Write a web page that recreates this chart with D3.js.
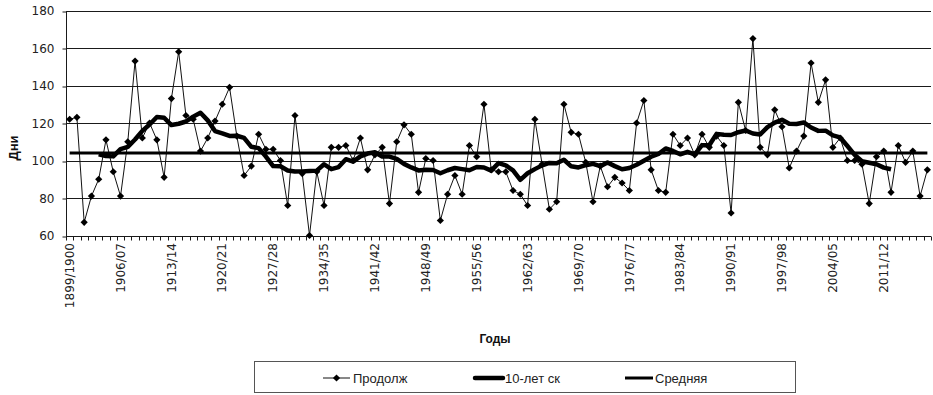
<!DOCTYPE html>
<html>
<head>
<meta charset="utf-8">
<script src="https://cdn.jsdelivr.net/npm/d3@7"></script>
<style>
  html, body { margin: 0; padding: 0; background: #fff; }
  svg { display: block; }
</style>
</head>
<body>
<svg id="chart" width="933" height="395"></svg>
<script>
// Seasons 1899/1900 … 2017/18
const startYear = 1899;
const endYear = 2017;

// Duration (days) per season
const durationDays = [
  122, 123, 67, 81, 90, 111, 94, 81, 110, 153,
  112, 120, 111, 91, 133, 158, 124, 122, 105, 112,
  121, 130, 139, 113, 92, 97, 114, 106, 106, 100,
  76, 124, 93, 60, 94, 76, 107, 107, 108, 100,
  112, 95, 103, 107, 77, 110, 119, 114, 83, 101,
  100, 68, 82, 92, 82, 108, 102, 130, 95, 94,
  94, 84, 82, 76, 122, 98, 74, 78, 130, 115,
  114, 99, 78, 97, 86, 91, 88, 84, 120, 132,
  95, 84, 83, 114, 108, 112, 103, 114, 107, 113,
  108, 72, 131, 116, 165, 107, 103, 127, 118, 96,
  105, 113, 152, 131, 143, 107, 112, 100, 100, 98,
  77, 102, 105, 83, 108, 99, 105, 81, 95
];

// 10-year running mean, starting at the 5th season
const runningStart = 4;
const runningMean = [
  103.3, 102.4, 102.2, 106.1, 107.3, 111.2, 115.8, 119.2, 123.2, 122.8,
  118.9, 119.6, 120.8, 123.4, 125.5, 121.4, 115.7, 114.5, 113.1, 113.2,
  112.1, 107.3, 106.6, 102.1, 97.0, 96.9, 94.7, 94.1, 94.2, 94.4,
  94.6, 98.0, 95.4, 96.5, 100.7, 99.4, 102.2, 103.7, 104.4, 102.1,
  102.1, 100.9, 98.2, 96.3, 94.7, 95.1, 94.9, 93.2, 94.8, 96.0,
  95.4, 94.8, 96.5, 96.3, 94.6, 98.6, 97.4, 94.7, 89.7, 93.2,
  95.4, 97.4, 98.7, 98.5, 100.4, 96.9, 96.3, 97.5, 98.2, 97.0,
  98.9, 97.0, 95.3, 96.0, 97.7, 99.9, 102.0, 103.5, 106.4, 105.1,
  103.3, 104.6, 103.3, 108.2, 108.1, 114.2, 113.7, 113.6, 115.1, 116.0,
  114.4, 113.9, 117.8, 120.2, 121.7, 119.6, 119.5, 120.3, 117.6, 115.8,
  115.9, 113.4, 112.3, 107.7, 103.0, 99.6, 98.8, 98.0, 96.2, 95.3
];

// Long-term average
const overallMean = 104;

const yTicks = [60, 80, 100, 120, 140, 160, 180];
const xTickLabels = [
  "1899/1900", "1906/07", "1913/14", "1920/21", "1927/28", "1934/35",
  "1941/42", "1948/49", "1955/56", "1962/63", "1969/70", "1976/77",
  "1983/84", "1990/91", "1997/98", "2004/05", "2011/12"
];

const legendNames = ["Продолж", "10-лет ск", "Средняя"];

function seasonLabel(y) {
  const n = y + 1;
  return (n % 100 === 0) ? `${y}/${n}` : `${y}/${String(n % 100).padStart(2, "0")}`;
}
const seasons = d3.range(startYear, endYear + 1).map(seasonLabel);

const svg = d3.select("#chart");
const plot = { left: 66, right: 931, top: 10.5, bottom: 235.5 };

const x = d3.scaleBand().domain(seasons).range([plot.left, plot.right]).padding(0);
const cx = s => x(s) + x.bandwidth() / 2;
const y = d3.scaleLinear().domain([60, 180]).range([plot.bottom, plot.top]);

// Horizontal grid lines
svg.append("g")
  .selectAll("line")
  .data(yTicks.filter(v => v > 60))
  .join("line")
  .attr("x1", plot.left).attr("x2", plot.right)
  .attr("y1", d => Math.round(y(d)) + 0.5).attr("y2", d => Math.round(y(d)) + 0.5)
  .attr("stroke", "#1a1a1a").attr("stroke-width", 1);

// Y axis
const yAxis = svg.append("g")
  .attr("transform", `translate(${plot.left + 0.5},0.5)`)
  .call(d3.axisLeft(y).tickValues(yTicks).tickSize(4).tickPadding(8).tickFormat(d3.format("d")));
yAxis.select(".domain").attr("stroke", "#1a1a1a").attr("d", `M0,${Math.round(plot.top)}V${Math.round(plot.bottom)}`);
yAxis.selectAll(".tick line").attr("stroke", "#1a1a1a").attr("transform", d => `translate(0,${Math.round(y(d)) - y(d)})`);
yAxis.selectAll(".tick text")
  .attr("font-family", "DejaVu Sans").attr("font-size", 12).attr("fill", "#222");

// X axis: ticks between every season, labels on every 7th
const xAxisY = Math.round(plot.bottom) + 0.5;
svg.append("line")
  .attr("x1", plot.left).attr("x2", plot.right)
  .attr("y1", xAxisY).attr("y2", xAxisY)
  .attr("stroke", "#1a1a1a");
svg.append("g")
  .selectAll("line")
  .data(seasons.concat([null]))
  .join("line")
  .attr("x1", (d, i) => Math.round(plot.left + i * x.bandwidth()) + 0.5)
  .attr("x2", (d, i) => Math.round(plot.left + i * x.bandwidth()) + 0.5)
  .attr("y1", xAxisY).attr("y2", xAxisY + 4)
  .attr("stroke", "#1a1a1a");
svg.append("g")
  .selectAll("text")
  .data(xTickLabels)
  .join("text")
  .attr("transform", d => `translate(${cx(d)},243) rotate(-90)`)
  .attr("text-anchor", "end")
  .attr("dy", "0.35em")
  .attr("font-family", "DejaVu Sans").attr("font-size", 12).attr("fill", "#222")
  .text(d => d);

// Axis titles
svg.append("text")
  .attr("transform", "translate(13,148) rotate(-90)")
  .attr("text-anchor", "middle").attr("dy", "0.35em")
  .attr("font-family", "Liberation Sans").attr("font-weight", "bold").attr("font-size", 13)
  .attr("fill", "#111")
  .text("Дни");
svg.append("text")
  .attr("x", 495).attr("y", 339).attr("dy", "0.35em")
  .attr("text-anchor", "middle")
  .attr("font-family", "Liberation Sans").attr("font-weight", "bold").attr("font-size", 12)
  .attr("fill", "#111")
  .text("Годы");

// Series: yearly values
const line = d3.line().x(d => cx(d.s)).y(d => y(d.v));
const yearly = seasons.map((s, i) => ({ s, v: durationDays[i] }));
svg.append("path")
  .attr("d", line(yearly))
  .attr("fill", "none").attr("stroke", "#111").attr("stroke-width", 1);
const diamond = d3.symbol(d3.symbolSquare, 26);
svg.append("g")
  .selectAll("path")
  .data(yearly)
  .join("path")
  .attr("d", diamond)
  .attr("transform", d => `translate(${cx(d.s)},${y(d.v)}) rotate(45)`)
  .attr("fill", "#000");

// Series: 10-year running mean
const running = runningMean.map((v, i) => ({ s: seasons[runningStart + i], v }));
svg.append("path")
  .attr("d", line(running))
  .attr("fill", "none").attr("stroke", "#000").attr("stroke-width", 4.5)
  .attr("stroke-linejoin", "round");

// Series: overall average
const avg = [seasons[0], seasons[seasons.length - 1]].map(s => ({ s, v: overallMean }));
svg.append("path")
  .attr("d", line(avg))
  .attr("fill", "none").attr("stroke", "#000").attr("stroke-width", 3);

// Legend
const legend = svg.append("g");
legend.append("rect")
  .attr("x", 254.5).attr("y", 361.5).attr("width", 541).attr("height", 31)
  .attr("fill", "#fff").attr("stroke", "#555").attr("stroke-width", 1);
const legendX = [323, 475, 625];
const legendY = 378;
legend.append("line")
  .attr("x1", legendX[0]).attr("x2", legendX[0] + 27).attr("y1", legendY).attr("y2", legendY)
  .attr("stroke", "#111").attr("stroke-width", 1);
legend.append("path")
  .attr("d", diamond)
  .attr("transform", `translate(${legendX[0] + 13.5},${legendY}) rotate(45)`)
  .attr("fill", "#000");
legend.append("line")
  .attr("x1", legendX[1]).attr("x2", legendX[1] + 28).attr("y1", legendY).attr("y2", legendY)
  .attr("stroke", "#000").attr("stroke-width", 4.5).attr("stroke-linecap", "round");
legend.append("line")
  .attr("x1", legendX[2]).attr("x2", legendX[2] + 28).attr("y1", legendY).attr("y2", legendY)
  .attr("stroke", "#000").attr("stroke-width", 3);
legend.selectAll("text.lbl")
  .data(legendNames)
  .join("text")
  .attr("class", "lbl")
  .attr("x", (d, i) => legendX[i] + 30).attr("y", legendY).attr("dy", "0.35em")
  .attr("font-family", "Liberation Sans").attr("font-size", 13).attr("fill", "#222")
  .text(d => d);
</script>
</body>
</html>
